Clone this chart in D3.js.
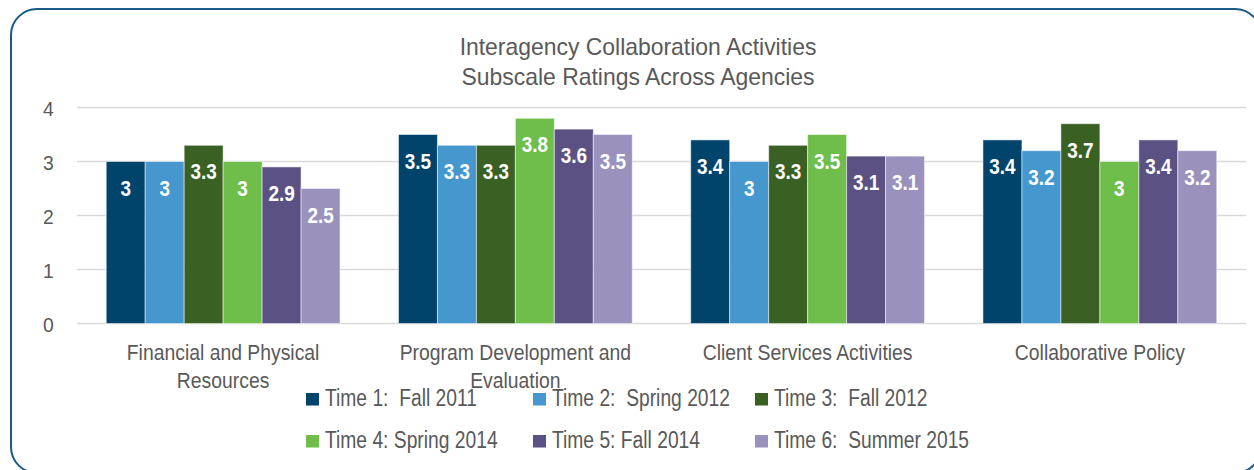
<!DOCTYPE html>
<html><head><meta charset="utf-8">
<script src="https://cdn.jsdelivr.net/npm/d3@7"></script>
<style>
html,body{margin:0;padding:0;background:#fff;}
svg text{font-family:"Liberation Sans",Arial,sans-serif;white-space:pre;}
</style></head>
<body>
<svg id="chart" width="1254" height="470"></svg>
<script>
const categories = [["Financial and Physical","Resources"],["Program Development and","Evaluation"],["Client Services Activities"],["Collaborative Policy"]];
const seriesNames = ["Time 1:  Fall 2011","Time 2:  Spring 2012","Time 3:  Fall 2012","Time 4: Spring 2014","Time 5: Fall 2014","Time 6:  Summer 2015"];
const time1 = [3.0, 3.5, 3.4, 3.4];
const time2 = [3.0, 3.3, 3.0, 3.2];
const time3 = [3.3, 3.3, 3.3, 3.7];
const time4 = [3.0, 3.8, 3.5, 3.0];
const time5 = [2.9, 3.6, 3.1, 3.4];
const time6 = [2.5, 3.5, 3.1, 3.2];
const yTicks = [0,1,2,3,4];
const colors = ["#00436b","#4697cd","#3a6023","#6fbd4b","#5b5283","#9a91bc"];
const titleLines = ["Interagency Collaboration Activities","Subscale Ratings Across Agencies"];

(function(){
const series = [time1,time2,time3,time4,time5,time6];
const svg = d3.select("#chart");

function condense(sel, k){
  sel.each(function(){
    const w = this.getComputedTextLength();
    d3.select(this).attr("textLength", w*k).attr("lengthAdjust","spacingAndGlyphs");
  });
}

// frame
svg.append("rect").attr("x",11).attr("y",9).attr("width",1250).attr("height",464)
  .attr("rx",26).attr("ry",26).attr("fill","none").attr("stroke","#1a5a86").attr("stroke-width",2);

const pl = 77, pr = 1246, pt = 107.5, pb = 323.5;
const bandStep = (pr-pl)/categories.length;
const groupW = bandStep*0.8;
const x1 = d3.scaleBand().domain(d3.range(series.length)).range([0,groupW]).padding(0);
const y = d3.scaleLinear().domain([0,4]).range([pb,pt]);

// gridlines
svg.append("g").selectAll("line").data(yTicks).join("line")
  .attr("x1",pl).attr("x2",pr).attr("y1",d=>y(d)).attr("y2",d=>y(d))
  .attr("stroke","#d9d9d9").attr("stroke-width",1.5);

// y axis labels
const yAxis = d3.axisLeft(y).tickValues(yTicks).tickSize(0).tickPadding(0).tickFormat(d3.format("d"));
const ya = svg.append("g").attr("transform",`translate(48.5,0)`).call(yAxis);
ya.select(".domain").remove();
ya.selectAll("text").attr("font-size",21).attr("fill","#595959").attr("text-anchor","middle")
  .attr("dy",null).attr("y",7.5).attr("font-family",null);
condense(ya.selectAll("text"),0.92);

// bars
const groupStart = i => pl + bandStep*i + (bandStep-groupW)/2;
const g = svg.append("g");
series.forEach((vals,si)=>{
  const gs = g.append("g");
  gs.selectAll("rect").data(vals).join("rect")
    .attr("x",(d,ci)=>groupStart(ci)+x1(si))
    .attr("y",d=>y(d))
    .attr("width",x1.bandwidth())
    .attr("height",d=>y(0)-y(d))
    .attr("fill",colors[si])
    .attr("stroke","#ffffff").attr("stroke-opacity",0.5).attr("stroke-width",1);
  const t = gs.selectAll("text").data(vals).join("text")
    .attr("x",(d,ci)=>groupStart(ci)+x1(si)+x1.bandwidth()/2)
    .attr("y",d=>y(d)+34)
    .attr("text-anchor","middle").attr("font-size",22).attr("font-weight","bold")
    .attr("fill","#ffffff").text(d=>d3.format("")(d));
  condense(t,0.86);
});

// category labels
const cl = svg.append("g");
categories.forEach((lines,ci)=>{
  const cx = pl + bandStep*ci + bandStep/2;
  lines.forEach((ln,li)=>{
    cl.append("text").attr("x",cx).attr("y",360+li*28).attr("text-anchor","middle")
      .attr("font-size",22).attr("fill","#595959").text(ln);
  });
});
condense(cl.selectAll("text"),0.88);

// title
const tg = svg.append("g");
titleLines.forEach((t,i)=>{
  tg.append("text").attr("x",638).attr("y",55+i*30).attr("text-anchor","middle")
    .attr("font-size",24).attr("fill","#595959").text(t);
});
condense(tg.selectAll("text"),0.955);

// legend
const legX = [306,533,755];
const legY = [406,448];
const lg = svg.append("g");
seriesNames.forEach((n,i)=>{
  const lx = legX[i%3], ly = legY[Math.floor(i/3)];
  lg.append("rect").attr("x",lx).attr("y",ly-13).attr("width",13).attr("height",12.5).attr("fill",colors[i]);
  lg.append("text").attr("class","lt").attr("x",lx+19).attr("y",ly).attr("font-size",23).attr("fill","#595959").text(n);
});
condense(lg.selectAll("text.lt"),0.837);
})();
</script>
</body></html>
